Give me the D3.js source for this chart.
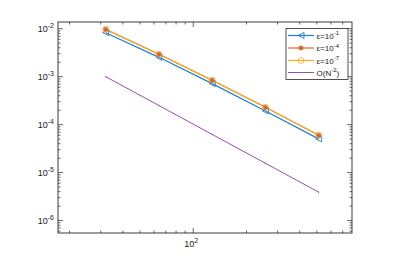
<!DOCTYPE html>
<html><head><meta charset="utf-8">
<script src="https://cdn.jsdelivr.net/npm/d3@7"></script>
<style>body{margin:0;background:#fff}svg{display:block}text{font-family:"Liberation Sans",Arial,sans-serif}</style>
</head><body><svg id="c" width="411" height="260"></svg>
<script>
const N = [32, 64, 128, 256, 512];
const eps1 = [8.26e-3, 2.53e-3, 7.15e-4, 1.93e-4, 5.04e-5];
const eps4 = [9.7e-3, 2.93e-3, 8.4e-4, 2.30e-4, 6.0e-5];
const eps7 = [9.7e-3, 2.93e-3, 8.4e-4, 2.30e-4, 6.0e-5];
const order = [1e-3, 2.5e-4, 6.25e-5, 1.5625e-5, 3.906e-6];
const yTickExps = [-2, -3, -4, -5, -6];
const xTickExps = [2];
const legendLabels = [["ε=10","-1"],["ε=10","-4"],["ε=10","-7"],["O(N","-2",")"]];

const svg = d3.select("#c");
const L = 58, R = 352, T = 22, B = 233;
const x = d3.scaleLog().domain([17.2, 790]).range([L, R]);
const y = d3.scaleLog().domain([5.5e-7, 1.38e-2]).range([B, T]);
const axc = "#262626";

const xMinor = [];
for (let d = 10; d <= 1000; d *= 10) for (let k = 1; k < 10; k++) { const v = k*d; if (v >= 17.2 && v <= 790) xMinor.push(v); }
const yMinor = [];
for (let e = -7; e <= -2; e++) for (let k = 1; k < 10; k++) { const v = k*Math.pow(10,e); if (v >= 5.5e-7 && v <= 1.38e-2) yMinor.push(v); }

const g = svg.append("g");
g.append("rect").attr("x",L).attr("y",T).attr("width",R-L).attr("height",B-T).attr("fill","#fff");

function tickLen(v){ const l = Math.log10(v); return Math.abs(l-Math.round(l))<1e-9 ? 5 : 2.5; }
xMinor.forEach(v => {
  const px = x(v), len = tickLen(v);
  g.append("line").attr("x1",px).attr("x2",px).attr("y1",B).attr("y2",B-len).attr("stroke",axc).attr("stroke-width",0.7);
  g.append("line").attr("x1",px).attr("x2",px).attr("y1",T).attr("y2",T+len).attr("stroke",axc).attr("stroke-width",0.7);
});
yMinor.forEach(v => {
  const py = y(v), len = tickLen(v);
  g.append("line").attr("y1",py).attr("y2",py).attr("x1",L).attr("x2",L+len).attr("stroke",axc).attr("stroke-width",0.7);
  g.append("line").attr("y1",py).attr("y2",py).attr("x1",R).attr("x2",R-len).attr("stroke",axc).attr("stroke-width",0.7);
});
g.append("rect").attr("x",L).attr("y",T).attr("width",R-L).attr("height",B-T).attr("fill","none").attr("stroke",axc).attr("stroke-width",0.9);

yTickExps.forEach(e => {
  const t = g.append("text").attr("x",L-4).attr("y",y(Math.pow(10,e))+3.5).attr("text-anchor","end").attr("font-size",9).attr("fill","#1a1a1a");
  t.append("tspan").text("10");
  t.append("tspan").attr("dy",-4).attr("font-size",7).text(String(e));
});
xTickExps.forEach(e => {
  const t = g.append("text").attr("x",x(Math.pow(10,e))-2).attr("y",B+14).attr("text-anchor","middle").attr("font-size",9).attr("fill","#1a1a1a");
  t.append("tspan").text("10");
  t.append("tspan").attr("dy",-4).attr("font-size",7).text(String(e));
});

const series = [
  {data: eps1, color:"#1f7fcf", marker:"tri", w:1.2},
  {data: eps4, color:"#E0622A", marker:"star", w:1.2},
  {data: eps7, color:"#F0B030", marker:"circ", w:1.3},
  {data: order, color:"#9B4DB3", marker:"dot", w:1.0}
];
const line = d3.line().x((d,i)=>x(N[i])).y(d=>y(d));

function drawMarker(sel, type, cx, cy, color){
  if (type==="tri") {
    const s=3;
    sel.append("path").attr("d",`M${cx-s},${cy} L${cx+s},${cy-s} L${cx+s},${cy+s} Z`).attr("fill","none").attr("stroke",color).attr("stroke-width",0.9);
  } else if (type==="star") {
    sel.append("circle").attr("cx",cx).attr("cy",cy).attr("r",2.1).attr("fill",color);
    const s=2.8;
    [[0,1],[1,0],[0.7,0.7],[0.7,-0.7]].forEach(([a,b])=>sel.append("line").attr("x1",cx-a*s).attr("y1",cy-b*s).attr("x2",cx+a*s).attr("y2",cy+b*s).attr("stroke",color).attr("stroke-width",0.8));
  } else if (type==="circ") {
    sel.append("circle").attr("cx",cx).attr("cy",cy).attr("r",3).attr("fill","none").attr("stroke",color).attr("stroke-width",0.8);
  } else {
    sel.append("circle").attr("cx",cx).attr("cy",cy).attr("r",0.7).attr("fill",color);
  }
}

const plot = g.append("g");
[0,1,2,3].forEach(k => {
  const s = series[k];
  plot.append("path").datum(s.data).attr("d",line).attr("fill","none").attr("stroke",s.color).attr("stroke-width",s.w);
});
[0,2,1,3].forEach(k => {
  const s = series[k];
  s.data.forEach((d,i)=>drawMarker(plot, s.marker, x(N[i]), y(d), s.color));
});

const lx=286, ly=28.5, lw=62, lh=51;
const leg = g.append("g");
leg.append("rect").attr("x",lx).attr("y",ly).attr("width",lw).attr("height",lh).attr("fill","#fff").attr("stroke",axc).attr("stroke-width",0.8);
const rowY = [35.5, 48, 60.5, 72.5];
series.forEach((s,k)=>{
  leg.append("line").attr("x1",lx+2).attr("x2",lx+28).attr("y1",rowY[k]).attr("y2",rowY[k]).attr("stroke",s.color).attr("stroke-width",s.w);
  drawMarker(leg, s.marker, lx+15, rowY[k], s.color);
  const t = leg.append("text").attr("x",lx+30.5).attr("y",rowY[k]+3).attr("font-size",8).attr("fill","#1a1a1a");
  const lab = legendLabels[k];
  t.append("tspan").text(lab[0]);
  t.append("tspan").attr("dy",-3.5).attr("font-size",6).text(lab[1]);
  if (lab[2]) t.append("tspan").attr("dy",3.5).attr("font-size",8).text(lab[2]);
});
</script></body></html>
